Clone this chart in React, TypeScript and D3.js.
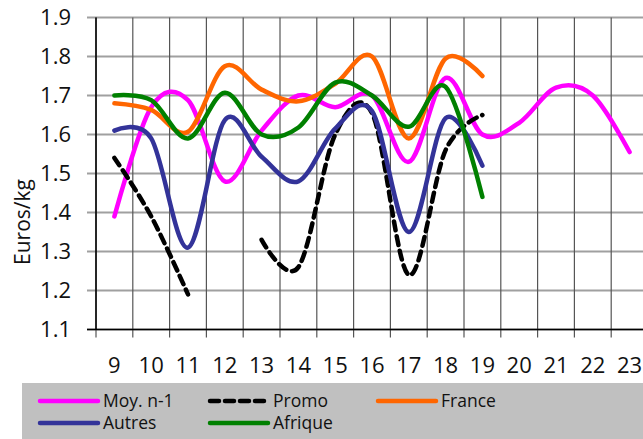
import * as d3 from "d3";

const weeks = ["9", "10", "11", "12", "13", "14", "15", "16", "17", "18", "19", "20", "21", "22", "23"];
const yTicks = [1.1, 1.2, 1.3, 1.4, 1.5, 1.6, 1.7, 1.8, 1.9];

const moyN1 = [1.39, 1.67, 1.688, 1.48, 1.61, 1.70, 1.67, 1.70, 1.53, 1.745, 1.60, 1.63, 1.72, 1.70, 1.555];
const promo = [1.54, 1.39, 1.19, null, 1.33, 1.26, 1.60, 1.655, 1.24, 1.56, 1.65, null, null, null, null];
const france = [1.68, 1.663, 1.607, 1.775, 1.715, 1.685, 1.73, 1.80, 1.59, 1.795, 1.75, null, null, null, null];
const autres = [1.61, 1.59, 1.31, 1.637, 1.543, 1.48, 1.615, 1.66, 1.35, 1.642, 1.52, null, null, null, null];
const afrique = [1.70, 1.688, 1.59, 1.707, 1.60, 1.618, 1.733, 1.70, 1.62, 1.722, 1.44, null, null, null, null];

const series = [
  { name: "Moy. n-1", values: moyN1, color: "#ff00ff", dash: "" },
  { name: "Promo", values: promo, color: "#000000", dash: "9 6" },
  { name: "France", values: france, color: "#ff6600", dash: "" },
  { name: "Autres", values: autres, color: "#333399", dash: "" },
  { name: "Afrique", values: afrique, color: "#008000", dash: "" },
];

const W = 643;
const H = 439;
const left = 96;
const step = 36.8;
const top = 17.5;
const bottom = 329.5;
const font = "'Open Sans', sans-serif";

export default function App() {
  const x = d3.scaleBand<string>().domain(weeks).range([left, left + step * weeks.length]);
  const y = d3.scaleLinear().domain([1.1, 1.9]).range([bottom, top]);
  const cx = (w: string) => (x(w) as number) + x.bandwidth() / 2;
  const gridX = [...weeks.map((w) => x(w) as number), left + step * weeks.length];

  const line = d3
    .line<number | null>()
    .defined((d) => d != null)
    .x((_, i) => cx(weeks[i]))
    .y((d) => y(d as number))
    .curve(d3.curveCardinal.tension(0));

  const legend = [
    { s: series[0], lx: 40, ly: 401 },
    { s: series[1], lx: 210, ly: 401 },
    { s: series[2], lx: 378, ly: 401 },
    { s: series[3], lx: 40, ly: 423 },
    { s: series[4], lx: 210, ly: 423 },
  ];

  return (
    <svg width={W} height={H} style={{ position: "absolute", left: 0, top: 0 }} fontFamily={font}>
      <rect width={W} height={H} fill="#fff" />
      {yTicks.map((t) => (
        <line key={t} x1={87} x2={W} y1={y(t)} y2={y(t)} stroke="#a0a0a0" strokeWidth={2} />
      ))}
      {gridX.map((gx, i) => (
        <line key={i} x1={gx} x2={gx} y1={top} y2={bottom + 8} stroke="#555" strokeWidth={1.2} />
      ))}
      <line x1={left} x2={left} y1={top} y2={bottom} stroke="#000" strokeWidth={1.5} />
      <line x1={87} x2={W} y1={bottom} y2={bottom} stroke="#000" strokeWidth={1.5} />
      {yTicks.map((t) => (
        <text key={t} x={71} y={y(t)} dy="0.35em" textAnchor="end" fontSize={22} fill="#111">
          {t.toFixed(1)}
        </text>
      ))}
      {weeks.map((w) => (
        <text key={w} x={cx(w)} y={373} textAnchor="middle" fontSize={22} fill="#111">
          {w}
        </text>
      ))}
      <text transform="translate(30,222) rotate(-90)" textAnchor="middle" fontSize={21} fill="#111">
        Euros/kg
      </text>
      {series.map((s) => (
        <path
          key={s.name}
          d={line(s.values) || ""}
          fill="none"
          stroke={s.color}
          strokeWidth={4.5}
          strokeDasharray={s.dash || undefined}
          strokeLinecap="round"
        />
      ))}
      <rect x={22} y={383} width={W - 22} height={H - 383} fill="#c0c0c0" />
      {legend.map(({ s, lx, ly }) => (
        <g key={s.name}>
          <line
            x1={lx}
            x2={lx + 58}
            y1={ly}
            y2={ly}
            stroke={s.color}
            strokeWidth={4.5}
            strokeDasharray={s.dash || undefined}
            strokeLinecap="round"
          />
          <text x={lx + 63} y={ly} dy="0.35em" fontSize={17.5} fill="#111">
            {s.name}
          </text>
        </g>
      ))}
    </svg>
  );
}
